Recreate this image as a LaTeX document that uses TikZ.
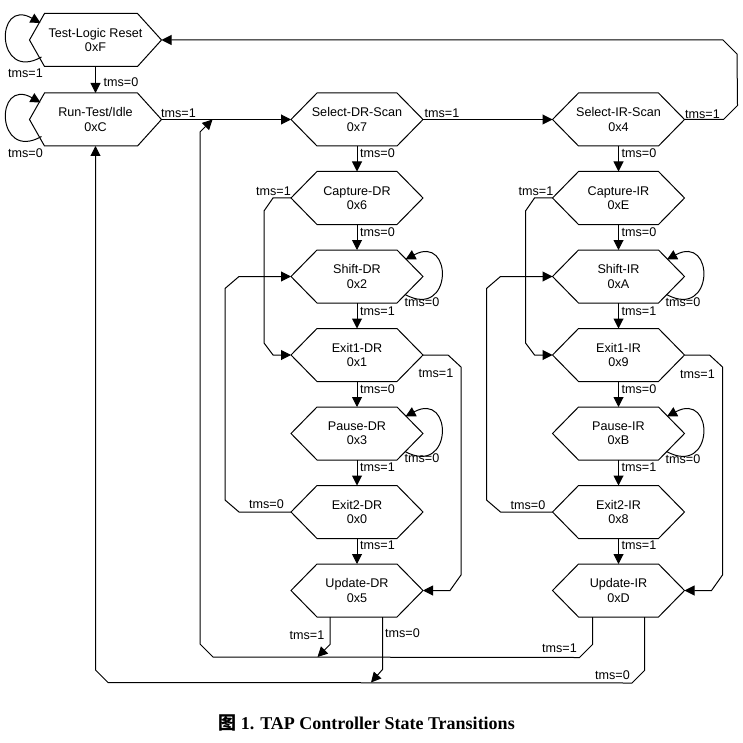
\documentclass[tikz,border=0pt]{standalone}
\usepackage{fontspec}
\setmainfont{Liberation Sans}
\newfontfamily\capfont{Liberation Serif}
\newfontfamily\cjkfont{Noto Sans CJK SC}
\usetikzlibrary{arrows.meta,calc}

\begin{document}
\begin{tikzpicture}[x=1pt,y=-1pt,
  line width=1pt,
  state/.style={minimum width=131pt, minimum height=52pt, inner sep=0pt,
    align=center, font=\fontsize{12.6}{14.4}\selectfont},
  tr/.style={-{Triangle[length=10pt,width=10pt]}},
  lbl/.style={inner sep=0pt, font=\fontsize{12.6}{14.4}\selectfont},
]
\useasboundingbox (0,0) rectangle (742,743);

% ---- states ----
\node[state] (tlr) at (95.5,40)    {Test-Logic Reset\\0xF};
\node[state] (rti) at (95.5,119.5) {Run-Test/Idle\\0xC};

\node[state] (sdr)  at (357,119.5) {Select-DR-Scan\\0x7};
\node[state] (cdr)  at (357,198)   {Capture-DR\\0x6};
\node[state] (shdr) at (357,276.5) {Shift-DR\\0x2};
\node[state] (e1dr) at (357,355)   {Exit1-DR\\0x1};
\node[state] (pdr)  at (357,433.5) {Pause-DR\\0x3};
\node[state] (e2dr) at (357,512)   {Exit2-DR\\0x0};
\node[state] (udr)  at (357,590.5) {Update-DR\\0x5};

\node[state] (sir)  at (618.5,119.5) {Select-IR-Scan\\0x4};
\node[state] (cir)  at (618.5,198)   {Capture-IR\\0xE};
\node[state] (shir) at (618.5,276.5) {Shift-IR\\0xA};
\node[state] (e1ir) at (618.5,355)   {Exit1-IR\\0x9};
\node[state] (pir)  at (618.5,433.5) {Pause-IR\\0xB};
\node[state] (e2ir) at (618.5,512)   {Exit2-IR\\0x8};
\node[state] (uir)  at (618.5,590.5) {Update-IR\\0xD};

% hexagon outlines (left slant / right slant)
\foreach \n/\ls/\rs in {tlr/15/24,rti/15/24,sdr/26/26,cdr/26/26,shdr/26/26,e1dr/26/26,
    pdr/26/26,e2dr/26/26,udr/26/26,sir/26/26,cir/26/26,shir/26/26,e1ir/26/26,
    pir/26/26,e2ir/26/26,uir/26/26}
  \draw (\n.west) -- ($(\n.north west)+(\ls,0)$) -- ($(\n.north east)+(-\rs,0)$)
        -- (\n.east) -- ($(\n.south east)+(-\rs,0)$) -- ($(\n.south west)+(\ls,0)$) -- cycle;

% junction points on shared lines
\coordinate (j1) at (212.5,119.5);
\coordinate (j2) at (317.5,657);
\coordinate (j3) at (371,682.5);

% ---- self loops ----
\draw[tr] ($(tlr.center)+(-54,17)$) .. controls +(-46,26) and +(-46,-26) .. ($(tlr.center)+(-55,-17)$);
\draw[tr] ($(rti.center)+(-54,17)$) .. controls +(-46,26) and +(-46,-26) .. ($(rti.center)+(-55,-17)$);
\foreach \n in {shdr,pdr,shir,pir}
  \draw[tr] ($(\n.center)+(48,18)$) .. controls +(48,26) and +(48,-26) .. ($(\n.center)+(48.5,-17)$);

% ---- straight transitions ----
\draw[tr] (tlr.south) -- (rti.north);
\draw[tr] (rti.east) -- (sdr.west);
\draw[tr] (sdr.east) -- (sir.west);
\foreach \a/\b in {sdr/cdr,cdr/shdr,shdr/e1dr,e1dr/pdr,pdr/e2dr,e2dr/udr,
                   sir/cir,cir/shir,shir/e1ir,e1ir/pir,pir/e2ir,e2ir/uir}
  \draw[tr] (\a.south) -- (\b.north);

% Select-IR-Scan back to Test-Logic Reset
\draw[tr] (sir.east) -- ++(39,0) -- ++(14,-14) -- (737,54) -- (723,40) -- (tlr.east);

% ---- column side paths ----
\foreach \c/\s/\ea/\eb/\u in {cdr/shdr/e1dr/e2dr/udr, cir/shir/e1ir/e2ir/uir}{
  % Capture tms=1 -> Exit1
  \draw[tr] (\c.west) -- ++(-18,0) -- ++(-9,13) -- ($(\ea.west)+(-27,-12)$)
            -- ($(\ea.west)+(-18,0)$) -- (\ea.west);
  % Exit2 tms=0 -> Shift
  \draw[tr] (\eb.west) -- ++(-52,0) -- ++(-14,-12) -- ($(\s.west)+(-66,12)$)
            -- ($(\s.west)+(-52,0)$) -- (\s.west);
  % Exit1 tms=1 -> Update
  \draw[tr] (\ea.east) -- ++(25,0) -- ++(13,12) -- ($(\u.east)+(38,-15.5)$)
            -- ($(\u.east)+(27,0)$) -- (\u.east);
}

% ---- return paths from the Update states ----
\draw[tr] ($(uir.south)+(-26,0)$) -- ++(0,27.5) -- ++(-13,13) -- (213,657)
          -- (200,644) -- (200,132) -- (j1);
\draw[tr] ($(udr.south)+(-27,0)$) -- ++(0,27.5) -- (j2);
\draw[tr] ($(uir.south)+(26,0)$) -- ++(0,53.5) -- ++(-12.5,12.5) -- (108,682.5)
          -- (95.5,670) -- (rti.south);
\draw[tr] ($(udr.south)+(25.5,0)$) -- ++(0,52.5) -- (j3);

% ---- transition labels ----
\node[lbl] (l01) at (25.5,73)  {tms=1};
\node[lbl] (l02) at (121,82)   {tms=0};
\node[lbl] (l03) at (25.5,153) {tms=0};
\node[lbl] (l04) at (178.5,113) {tms=1};
\node[lbl] (l05) at (442,113)  {tms=1};
\node[lbl] (l06) at (702.5,114) {tms=1};

\foreach \x in {377.5,639}{
  \node[lbl] at (\x,152.7) {tms=0};
  \node[lbl] at (\x,231.7) {tms=0};
  \node[lbl] at (\x,311.2) {tms=1};
  \node[lbl] at (\x,389.5) {tms=0};
  \node[lbl] at (\x,467)   {tms=1};
  \node[lbl] at (\x,545)   {tms=1};
}
\node[lbl] at (422,302.5) {tms=0};
\node[lbl] at (422,458.5) {tms=0};
\node[lbl] at (683,302)   {tms=0};
\node[lbl] at (683,459)   {tms=0};

\node[lbl] at (273.5,191.7) {tms=1};
\node[lbl] at (536,191.7)   {tms=1};
\node[lbl] at (266.5,504)   {tms=0};
\node[lbl] at (528,505)     {tms=0};
\node[lbl] at (436,373.5)   {tms=1};
\node[lbl] at (697.5,374)   {tms=1};

\node[lbl] at (307,635)   {tms=1};
\node[lbl] at (402.5,633) {tms=0};
\node[lbl] at (559.5,648) {tms=1};
\node[lbl] at (612.5,675) {tms=0};

% ---- caption ----
\node[font=\capfont\bfseries\fontsize{18}{21}\selectfont] (cap) at (366.5,723)
  {{\cjkfont 图} 1. TAP Controller State Transitions};
\end{tikzpicture}
\end{document}
